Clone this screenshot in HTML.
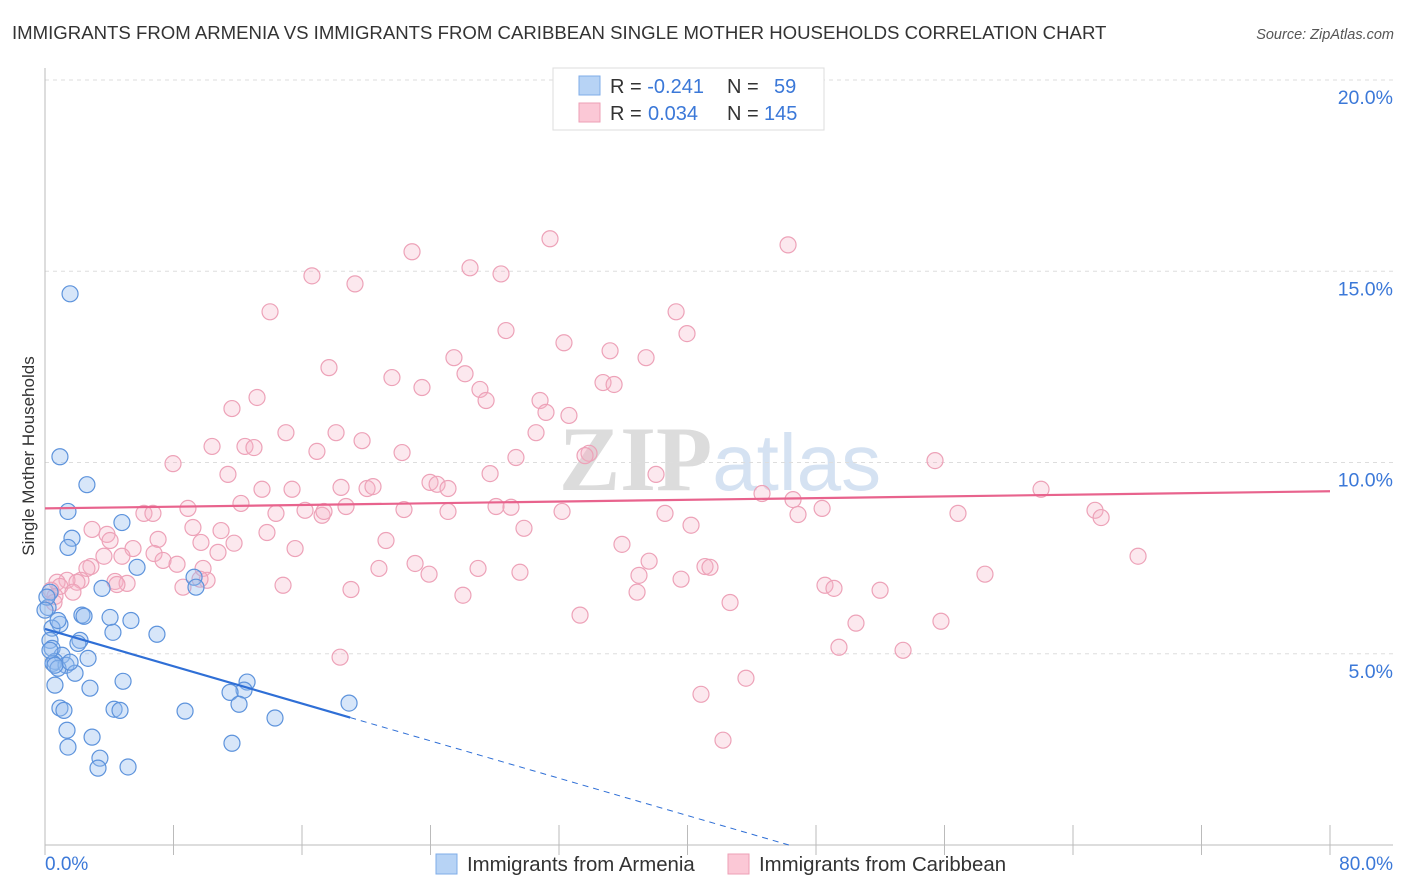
<!DOCTYPE html>
<html><head><meta charset="utf-8"><style>
body{margin:0;background:#fff;font-family:"Liberation Sans",sans-serif;}
svg{display:block}
</style></head><body>
<svg id="chart" width="1406" height="892" xmlns="http://www.w3.org/2000/svg">
<text x="12" y="39" font-size="18.6" fill="#333">IMMIGRANTS FROM ARMENIA VS IMMIGRANTS FROM CARIBBEAN SINGLE MOTHER HOUSEHOLDS CORRELATION CHART</text>
<text x="1394" y="39" font-size="14.5" fill="#555" font-style="italic" text-anchor="end">Source: ZipAtlas.com</text>
<text x="720" y="490" font-size="92" fill="#e3e3e3" text-anchor="middle" font-family="Liberation Serif, serif"><tspan font-weight="bold" fill="#dcdcdc">ZIP</tspan><tspan font-family="Liberation Sans, sans-serif" fill="#d5e2f2" font-size="80">atlas</tspan></text>
<g id="grid"></g><g id="axes"></g><g id="marks"></g>
<text transform="translate(34,456) rotate(-90)" font-size="17" fill="#333" text-anchor="middle">Single Mother Households</text>
<g>
<rect x="553" y="68" width="271" height="62" fill="#fff" stroke="#ddd"/>
<rect x="579" y="76" width="21" height="19" fill="#b7d3f5" stroke="#7fade8"/>
<rect x="579" y="103" width="21" height="19" fill="#fbc8d6" stroke="#ee9fb6"/>
<text x="610" y="93" font-size="20" fill="#333">R = <tspan fill="#3b78d8">-0.241</tspan><tspan x="727">N = </tspan><tspan x="774" fill="#3b78d8">59</tspan></text>
<text x="610" y="120" font-size="20" fill="#333">R = <tspan x="648" fill="#3b78d8">0.034</tspan><tspan x="727">N = </tspan><tspan x="764" fill="#3b78d8">145</tspan></text>
</g>
<g>
<rect x="436" y="854" width="21" height="20" fill="#b7d3f5" stroke="#7fade8"/>
<text x="467" y="871" font-size="20.4" fill="#333">Immigrants from Armenia</text>
<rect x="728" y="854" width="21" height="20" fill="#fbc8d6" stroke="#ee9fb6"/>
<text x="759" y="871" font-size="20.4" fill="#333">Immigrants from Caribbean</text>
</g>
</svg>
<script>
const yTicks=[5,10,15,20];
const yTickLabels=["5.0%","10.0%","15.0%","20.0%"];
const xTicks=[0,8,16,24,32,40,48,56,64,72,80];
const xEndLabels=["0.0%","80.0%"];
const armeniaX=[1.56,0.93,2.61,1.43,4.79,1.68,1.43,5.73,3.55,9.28,9.40,0.31,0.19,2.30,2.43,4.05,5.35,0.93,0.44,4.23,6.97,2.18,0.31,2.05,0.44,1.06,2.68,0.62,0.50,1.31,0.81,1.87,0.62,4.86,2.80,12.58,12.39,11.52,12.08,18.93,0.93,1.18,4.30,4.67,8.72,14.32,1.37,2.93,11.64,1.43,3.42,3.30,5.17,0.12,0.31,0.62,1.56,0.0,0.81];
const armeniaY=[14.41,10.15,9.42,8.72,8.43,8.02,7.78,7.26,6.71,7.00,6.74,6.61,6.21,6.01,5.98,5.95,5.87,5.77,5.67,5.56,5.51,5.35,5.35,5.27,5.14,4.96,4.88,4.80,4.75,4.70,4.62,4.49,4.18,4.28,4.10,4.26,4.05,3.99,3.68,3.71,3.58,3.52,3.55,3.52,3.50,3.32,3.00,2.82,2.66,2.56,2.27,2.01,2.04,6.48,5.09,4.70,4.78,6.14,5.87];
const caribX=[31.44,46.26,22.85,16.62,26.46,28.39,19.30,14.01,39.29,28.70,39.97,32.31,35.18,25.46,37.42,17.68,26.15,21.60,34.74,35.43,23.47,27.08,13.20,27.46,30.82,11.64,31.19,32.62,18.12,15.00,30.57,19.74,10.40,12.45,13.01,22.23,16.93,33.87,33.62,29.32,7.97,55.41,27.71,11.39,38.04,23.97,24.41,25.09,15.38,20.05,20.42,13.51,18.43,44.64,62.01,12.20,46.57,16.19,28.08,29.01,18.74,8.90,22.35,25.09,32.19,48.38,14.38,6.16,6.72,46.88,38.60,56.84,65.37,65.75,17.25,17.37,2.93,9.21,40.22,10.96,29.82,13.82,3.86,7.04,9.71,4.05,11.77,21.23,35.92,15.57,5.48,4.79,10.77,6.79,3.67,68.05,7.35,8.22,37.61,41.09,23.04,20.79,2.86,2.61,26.96,29.57,41.40,9.84,23.91,36.98,58.52,2.24,1.37,0.75,1.99,0.93,4.36,5.11,8.59,10.09,14.82,39.60,48.56,49.12,51.99,0.37,1.74,0.62,19.05,26.02,36.86,42.65,0.56,33.31,55.78,50.49,49.43,18.37,53.42,43.64,40.84,42.21,9.65,4.48];
const caribY=[15.85,15.69,15.51,14.88,15.09,14.93,14.67,13.94,13.94,13.45,13.37,13.13,12.92,12.74,12.74,12.48,12.32,12.22,12.09,12.04,11.96,11.91,11.70,11.62,11.62,11.41,11.31,11.23,10.78,10.78,10.78,10.57,10.42,10.42,10.39,10.26,10.29,10.24,10.18,10.13,9.97,10.05,9.71,9.69,9.69,9.48,9.43,9.32,9.30,9.32,9.37,9.30,9.35,9.19,9.30,8.93,9.03,8.75,8.85,8.83,8.85,8.80,8.77,8.72,8.72,8.80,8.67,8.67,8.67,8.64,8.67,8.67,8.75,8.56,8.62,8.72,8.25,8.30,8.36,8.22,8.28,8.17,8.12,7.99,7.91,7.96,7.89,7.96,7.86,7.75,7.75,7.55,7.65,7.62,7.55,7.55,7.44,7.34,7.42,7.28,7.36,7.23,7.28,7.23,7.23,7.13,7.26,7.23,7.08,7.05,7.08,6.92,6.92,6.87,6.87,6.76,6.89,6.84,6.74,6.92,6.79,6.95,6.79,6.71,6.66,6.66,6.61,6.50,6.68,6.53,6.61,6.34,6.34,6.01,5.85,5.80,5.17,4.91,5.09,4.36,3.94,2.74,6.95,6.81];
const armeniaTrend=[5.65,-0.122];
const caribTrend=[8.8,0.0056];

const NS="http://www.w3.org/2000/svg";
const X0=45,X1=1330,Y0=845,Y20=80;
function sx(v){return X0+(X1-X0)*v/80;}
function sy(v){return Y0-(Y0-Y20)*v/20;}
function mk(tag,attrs,parent){const e=document.createElementNS(NS,tag);for(const k in attrs)e.setAttribute(k,attrs[k]);document.getElementById(parent).appendChild(e);return e;}
yTicks.forEach((t,i)=>{
  const g=mk('line',{x1:X0,x2:1393,y1:sy(t),y2:sy(t),stroke:'#ddd','stroke-dasharray':'4,4'},'grid');
  
  
  const l=mk('text',{x:1393,y:sy(t)+24,'font-size':19.5,fill:'#3b78d8','text-anchor':'end'},'axes');
  l.textContent=yTickLabels[i];
  
  
});
const ax=mk('line',{x1:X0,x2:1393,y1:Y0,y2:Y0,stroke:'#bbb'},'axes');


const ay=mk('line',{x1:X0,x2:X0,y1:68,y2:Y0,stroke:'#bbb'},'axes');


xTicks.forEach(t=>{
  const k=mk('line',{x1:sx(t),x2:sx(t),y1:Y0-20,y2:Y0+10,stroke:'#bbb'},'axes');
  
  
});
const xl0=mk('text',{x:45,y:870,'font-size':19,fill:'#3b78d8'},'axes');xl0.textContent=xEndLabels[0];


const xl1=mk('text',{x:1393,y:870,'font-size':19,fill:'#3b78d8','text-anchor':'end'},'axes');xl1.textContent=xEndLabels[1];


caribX.forEach((x,i)=>{
  const c=mk('circle',{cx:sx(x),cy:sy(caribY[i]),r:8,fill:'rgba(246,180,200,0.3)',stroke:'#eda2b8','stroke-width':1.2},'marks');
  
  
});
armeniaX.forEach((x,i)=>{
  const c=mk('circle',{cx:sx(x),cy:sy(armeniaY[i]),r:8,fill:'rgba(150,190,240,0.38)',stroke:'#5d93dc','stroke-width':1.2},'marks');
  
  
});
const pl=mk('line',{x1:sx(0),y1:sy(caribTrend[0]),x2:sx(80),y2:sy(caribTrend[0]+caribTrend[1]*80),stroke:'#e8638d','stroke-width':2.2},'marks');


const xs=19, xe=-armeniaTrend[0]/armeniaTrend[1];
const bl=mk('line',{x1:sx(0),y1:sy(armeniaTrend[0]),x2:sx(xs),y2:sy(armeniaTrend[0]+armeniaTrend[1]*xs),stroke:'#2f6fd6','stroke-width':2.2},'marks');


const bd=mk('line',{x1:sx(xs),y1:sy(armeniaTrend[0]+armeniaTrend[1]*xs),x2:sx(xe),y2:sy(0),stroke:'#2f6fd6','stroke-width':1,'stroke-dasharray':'6,5'},'marks');


</script>
</body></html>
